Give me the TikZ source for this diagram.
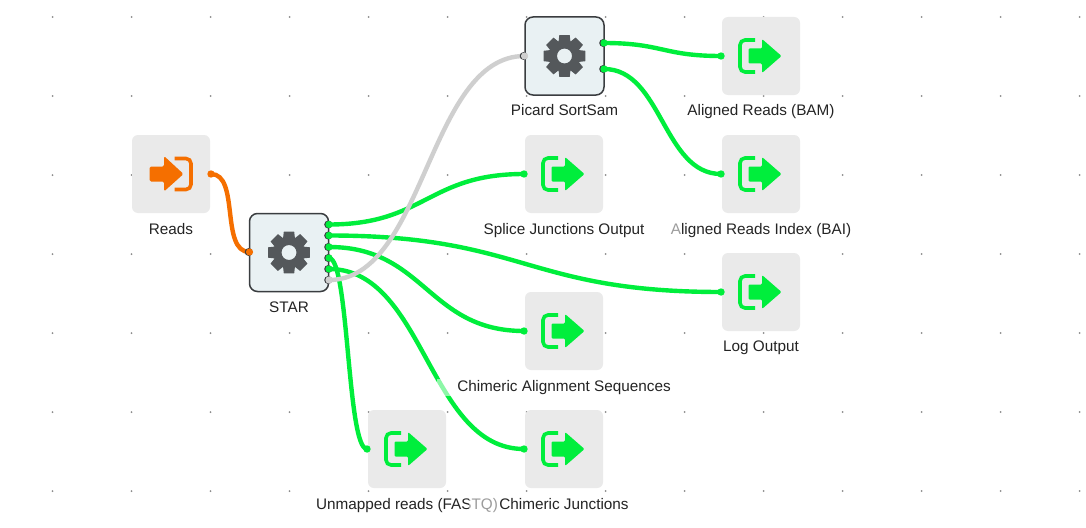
\documentclass[tikz,border=0pt]{standalone}
\usepackage{fontspec}
\setmainfont{Liberation Sans}
\definecolor{cgreen}{HTML}{00EE3C}
\definecolor{corange}{HTML}{F56F00}
\definecolor{cgrey}{HTML}{CFCFCF}
\definecolor{cbox}{HTML}{EAEAEA}
\definecolor{ctool}{HTML}{E9F1F3}
\definecolor{cgear}{HTML}{54585B}
\definecolor{cborder}{HTML}{3A3D40}
\definecolor{ctext}{HTML}{242424}
\tikzset{
  iobox/.style={fill=cbox,rounded corners=6pt,minimum width=78pt,minimum height=78pt,inner sep=0pt},
  toolbox/.style={draw=cborder,line width=1.5pt,fill=ctool,rounded corners=8pt,minimum width=79pt,minimum height=78pt,inner sep=0pt},
  lab/.style={font=\fontsize{15.3pt}{17pt}\selectfont,text=ctext,inner xsep=0pt,inner ysep=1pt,text height=11pt,text depth=3.5pt,fill=white,fill opacity=.55,text opacity=1,anchor=center},
  port/.style={circle,inner sep=0pt,minimum size=7pt,draw=none},
  wire/.style={line width=4.4pt,line cap=round},
  griddot/.style={fill=black!45},
}
\begin{document}
\begin{tikzpicture}[x=1pt,y=-1pt]
\useasboundingbox (0,0) rectangle (1086,527);
\fill[white] (0,0) rectangle (1086,527);
\foreach \gx in {52.5,131.5,...,1080}
  \foreach \gy in {17,96,175,254,333,412,491}
    \fill[griddot] (\gx,\gy) circle (1pt);
% boxes
\node[iobox] (reads) at (171,174) {};
\node[toolbox] (star) at (289,252.5) {};
\node[toolbox] (picard) at (564.5,56) {};
\node[iobox] (bam) at (761,56) {};
\node[iobox] (bai) at (761,174) {};
\node[iobox] (splice) at (564,174) {};
\node[iobox] (logo) at (761,292) {};
\node[iobox] (chimseq) at (564,331) {};
\node[iobox] (chimj) at (564,449) {};
\node[iobox] (unm) at (407,449) {};
% input icon
\begin{scope}[shift={(reads.center)}]
  \fill[corange,rounded corners=1.5pt] (-21.5,-7.5) -- (-7,-7.5) -- (-7,-18) -- (12.5,0) -- (-7,17.5) -- (-7,7.5) -- (-21.5,7.5) -- cycle;
  \draw[corange,line width=3.6pt,rounded corners=5pt] (3.5,-15.5) -- (20,-15.5) -- (20,15.5) -- (3.5,15.5);
\end{scope}
% output icons
\foreach \n in {bam,bai,splice,logo,chimseq,chimj,unm}{
  \begin{scope}[shift={(\n.center)}]
    \fill[cgreen,rounded corners=1.2pt] (-12.5,-7.5) -- (1,-7.5) -- (1,-17) -- (20.5,0) -- (1,17) -- (1,7.5) -- (-12.5,7.5) -- cycle;
    \draw[cgreen,line width=3.6pt,rounded corners=5pt] (-6,-16) -- (-21,-16) -- (-21,16) -- (-6,16);
  \end{scope}
}
% gears
\foreach \n in {star,picard}{
  \begin{scope}[shift={(\n.center)}]
    \fill[cgear,even odd rule]
      plot[smooth cycle,tension=0] coordinates {
        (-22.5:15.5)(-14:21.5)(14:21.5)(22.5:15.5)
        (31:21.5)(59:21.5)(67.5:15.5)
        (76:21.5)(104:21.5)(112.5:15.5)
        (121:21.5)(149:21.5)(157.5:15.5)
        (166:21.5)(194:21.5)(202.5:15.5)
        (211:21.5)(239:21.5)(247.5:15.5)
        (256:21.5)(284:21.5)(292.5:15.5)
        (301:21.5)(329:21.5)}
      (0,0) circle (7.5pt);
  \end{scope}
}
% ports
\node[port] (pReadsOut) at (211,174) {};
\node[port] (pStarIn) at (249.5,252) {};
\node[port] (s1) at (329,224.5) {};
\node[port] (s2) at (329,235.5) {};
\node[port] (s3) at (329,247) {};
\node[port] (s4) at (329,258) {};
\node[port] (s5) at (329,269) {};
\node[port] (s6) at (329,280) {};
\node[port] (pPicIn) at (524.5,56) {};
\node[port] (pa) at (604,43) {};
\node[port] (pb) at (604,69) {};
\node[port] (iBam) at (721,56) {};
\node[port] (iBai) at (721,174) {};
\node[port] (iSpl) at (524,174) {};
\node[port] (iLog) at (721,292) {};
\node[port] (iSeq) at (524,331) {};
\node[port] (iCj) at (524,449) {};
\node[port] (iUn) at (367,449) {};
% wires
\draw[wire,corange] (pReadsOut.center) .. controls (240,174) and (220,252) .. (pStarIn.center);
\draw[wire,cgreen] (s1.center) .. controls (425,224.5) and (428,174) .. (iSpl.center);
\draw[wire,cgreen] (s2.center) .. controls (525,235.5) and (525,292) .. (iLog.center);
\draw[wire,cgreen] (s3.center) .. controls (425,247) and (428,331) .. (iSeq.center);
\draw[wire,cgreen] (s4.center) .. controls (349,258) and (347,449) .. (iUn.center);
\draw[wire,cgreen] (s5.center) .. controls (425,269) and (428,449) .. (iCj.center);
\draw[wire,cgrey] (s6.center) .. controls (425,280) and (428,56) .. (pPicIn.center);
\draw[wire,cgreen] (pa.center) .. controls (662,43) and (663,56) .. (iBam.center);
\draw[wire,cgreen] (pb.center) .. controls (662,69) and (663,174) .. (iBai.center);
% port dots on top of wires
\foreach \p/\c in {pReadsOut/corange,iBam/cgreen,iBai/cgreen,iSpl/cgreen,iLog/cgreen,iSeq/cgreen,iCj/cgreen,iUn/cgreen}
  \fill[\c] (\p.center) circle (3.7pt);
\foreach \p/\c in {s1/cgreen,s2/cgreen,s3/cgreen,s4/cgreen,s5/cgreen,s6/cgrey,pa/cgreen,pb/cgreen,pStarIn/corange,pPicIn/cgrey}{
  \fill[cborder] ([xshift=-.8pt]\p.center) circle (4pt);
  \fill[\c] (\p.center) circle (3.6pt);
}
% labels
\node[lab] (lReads) at (171,230.5) {Reads};
\node[lab] (lStar) at (289,309) {STAR};
\node[lab] (lPic) at (564.5,112) {Picard SortSam};
\node[lab] (lBam) at (761,112) {Aligned Reads (BAM)};
\node[lab] (lBai) at (761,230.5) {Aligned Reads Index (BAI)};
\node[lab,minimum width=234pt] (lSpl) at (564,230.5) {Splice Junctions Output};
\node[lab] (lLog) at (761,348) {Log Output};
\node[lab,minimum width=254pt] (lSeq) at (564,387.5) {Chimeric Alignment Sequences};
\node[lab] (lUn) at (407,505.5) {Unmapped reads (FASTQ)};
\node[lab,minimum width=191pt] (lCj) at (564,505.5) {Chimeric Junctions};
\end{tikzpicture}
\end{document}
